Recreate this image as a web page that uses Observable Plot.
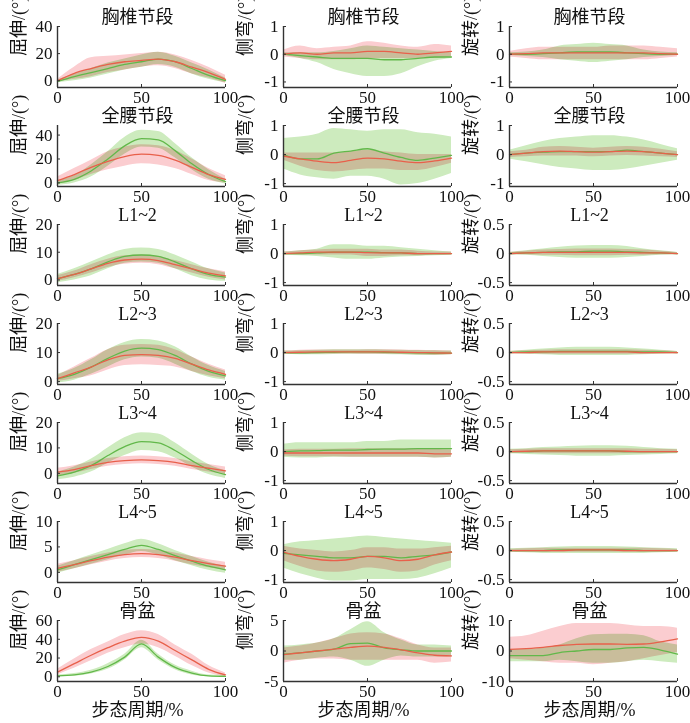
<!DOCTYPE html>
<html><head><meta charset="utf-8">
<script src="https://cdn.jsdelivr.net/npm/d3@7"></script>
<script src="https://cdn.jsdelivr.net/npm/@observablehq/plot@0.6"></script>
<style>
body{margin:0;background:#fff}
#chart{position:relative;width:690px;height:723px;overflow:hidden;background:#fff}
#chart svg{position:absolute;overflow:visible}
</style></head><body><div id="chart"></div>
<script>
// ---- categories / labels ----
const gaitPct = [0,10,20,30,40,50,60,70,80,90,100];
const rowKeys = ["T","W","A","B","C","D","P"];
const rowTitles = ["胸椎节段","全腰节段","L1~2","L2~3","L3~4","L4~5","骨盆"];
const colKeys = ["FE","LB","AR"];
const colLabels = ["屈伸/(°)","侧弯/(°)","旋转/(°)"];
const xLabel = "步态周期/%";
const xTicks = [0,50,100];
const yTicksFE = [[0,20,40],[0,20,40],[0,10,20],[0,10,20],[0,10,20],[0,5,10],[0,20,40,60]];
const yTicksLB = [[-1,0,1],[-1,0,1],[-1,0,1],[-1,0,1],[-1,0,1],[-1,0,1],[-5,0,5]];
const yTicksAR = [[-1,0,1],[-1,0,1],[-0.5,0,0.5],[-0.5,0,0.5],[-0.5,0,0.5],[-0.5,0,0.5],[-10,0,10]];
const yRangeFE = [[-5,40],[-3,48],[-2,20],[-1,20],[-4,20],[-2,10],[-5,60]];
const yRangeLB = [[-1.2,1],[-1.1,1],[-1.1,1],[-1.1,1],[-1.1,1],[-1.1,1],[-5,5]];
const yRangeAR = [[-1.2,1],[-1.1,1],[-0.55,0.5],[-0.55,0.5],[-0.55,0.5],[-0.55,0.5],[-10,10]];

// ---- series values (mean, lower, upper) read at gaitPct ----
// Flexion-extension 屈伸
const T_FE_red   = {mean:[0,5.5,9,12,14,15,16,14,10,6,1], lo:[-1,1,3,6,8,10,11,9,5,2,-2], hi:[1,10,17,18,19,20,21,19,15,10,4]};
const T_FE_green = {mean:[-0.5,3,6,9,12,14,16,14,9,4,0], lo:[-1.5,0,2,5,8,10,12,10,5,1,-1.5], hi:[0.5,5,9,13,16,19,21,18,13,8,2]};
const W_FE_red   = {mean:[2,7,13,18,22,24,23,19,13,7,3], lo:[-1,2,7,11,14,16,15,12,7,2,0], hi:[5,12,19,26,30,32,31,27,20,12,6]};
const W_FE_green = {mean:[0,3,10,20,31,37,36,27,16,7,1], lo:[-2,0,5,14,24,30,29,21,11,3,-1], hi:[2,6,15,26,38,44,43,33,21,11,3]};
const A_FE_red   = {mean:[0.5,2,4,6,7.2,7.5,7,5.5,4,2.5,1.5], lo:[-0.5,0.8,2.5,4.5,5.7,6,5.5,4,2.5,1,0], hi:[1.5,3.2,5.5,7.5,8.7,9,8.5,7,5.5,4,3]};
const A_FE_green = {mean:[0.5,2,4,6.5,8.5,9,8.5,6.5,4,2,1], lo:[-1,0,1.5,4,6,6.5,6,4,1.5,0,-0.5], hi:[2,4,6.5,9,11,11.5,11,9,6.5,4,2.5]};
const B_FE_red   = {mean:[1,3,5,7.5,9,9.3,9,8,6,4,2.5], lo:[0,1,2,4,5.5,5.8,5.5,5,3.5,2,1], hi:[2,5,8,11,12.5,12.8,12.5,11,8.5,6,4]};
const B_FE_green = {mean:[1,2.5,5,8,10.5,11.5,11,9,6,3.5,2], lo:[-0.5,0.5,2.5,5,7.5,8.5,8,6,3.5,1.5,0.5], hi:[2.5,4.5,7.5,11,13.5,14.5,14,12,8.5,5.5,3.5]};
const C_FE_red   = {mean:[0.5,1.5,3,4.3,5,5.3,5,4.3,3,2,1], lo:[-1,0,1.5,2.8,3.5,3.8,3.5,2.8,1.5,0.5,-0.5], hi:[2,3,4.5,5.8,6.5,6.8,6.5,5.8,4.5,3.5,2.5]};
const C_FE_green = {mean:[-1,0.5,3,7,10.5,12.5,12,9,5,1.5,-0.5], lo:[-2.5,-1.5,0.5,4,7,9,8.5,6,2.5,-0.5,-2], hi:[0.5,2.5,5.5,10,14,16,15.5,12,7.5,3.5,1]};
const D_FE_red   = {mean:[0.8,1.5,2.3,3,3.5,3.7,3.5,3,2.3,1.7,1.2], lo:[0,0.7,1.5,2.2,2.7,2.9,2.7,2.2,1.5,0.9,0.4], hi:[1.6,2.3,3.1,3.8,4.3,4.5,4.3,3.8,3.1,2.5,2]};
const D_FE_green = {mean:[0.5,1.5,2.5,3.5,4.5,5.3,4.5,3.3,2.2,1.2,0.5], lo:[-0.2,0.7,1.6,2.5,3.4,4.1,3.4,2.3,1.3,0.4,-0.2], hi:[1.2,2.3,3.4,4.5,5.6,6.5,5.6,4.3,3.1,2,1.2]};
const P_FE_red   = {mean:[5,14,23,31,38,42,38,28,18,8,2], lo:[2,9,17,25,31,35,31,22,12,4,0], hi:[8,19,29,37,45,49,45,34,24,12,4]};
const P_FE_green = {mean:[1,2,5,11,21,35,21,10,4,1,0.5], lo:[0,0.5,3,8,18,31,18,7.5,2,0,-0.5], hi:[2,3.5,7,14,24,39,24,12.5,6,2,1.5]};
// Lateral bending 侧弯
const T_LB_red   = {mean:[0,0.05,0,0.05,0.05,0.1,0.1,0.05,0,0.05,0.1], lo:[-0.1,-0.15,-0.2,-0.2,-0.2,-0.15,-0.15,-0.15,-0.15,-0.15,-0.1], hi:[0.15,0.3,0.2,0.25,0.3,0.45,0.4,0.3,0.25,0.35,0.3]};
const T_LB_green = {mean:[0,-0.05,-0.1,-0.15,-0.15,-0.15,-0.2,-0.2,-0.15,-0.1,-0.1], lo:[-0.05,-0.15,-0.3,-0.55,-0.7,-0.8,-0.8,-0.7,-0.45,-0.25,-0.15], hi:[0.05,0.05,0.05,0.1,0.2,0.3,0.25,0.2,0.15,0.1,0.05]};
const W_LB_red   = {mean:[-0.05,-0.15,-0.23,-0.28,-0.2,-0.12,-0.15,-0.23,-0.28,-0.22,-0.12], lo:[-0.2,-0.4,-0.55,-0.6,-0.55,-0.5,-0.5,-0.55,-0.55,-0.45,-0.3], hi:[0.05,0.05,0.05,0.05,0.1,0.15,0.1,0.05,0,0,0]};
const W_LB_green = {mean:[0,-0.15,-0.15,0.05,0.12,0.2,0.05,-0.1,-0.2,-0.12,-0.03], lo:[-0.5,-0.7,-0.8,-0.85,-0.75,-0.75,-0.85,-1.05,-1,-0.85,-0.65], hi:[0.55,0.6,0.7,0.9,0.85,0.8,0.85,0.85,0.75,0.7,0.6]};
const A_LB_red   = {mean:[0,0.02,0.05,0.05,0.05,0.03,0.02,0.02,0,0,0], lo:[-0.05,-0.05,-0.05,-0.05,-0.05,-0.1,-0.1,-0.08,-0.08,-0.05,-0.05], hi:[0.05,0.1,0.12,0.15,0.15,0.15,0.12,0.12,0.08,0.05,0.05]};
const A_LB_green = {mean:[0,0,0.02,0.05,0.05,0.05,0.03,0.02,0,0,0], lo:[-0.05,-0.08,-0.1,-0.15,-0.2,-0.2,-0.15,-0.12,-0.1,-0.08,-0.05], hi:[0.05,0.1,0.15,0.3,0.3,0.25,0.25,0.2,0.15,0.1,0.05]};
const B_LB_red   = {mean:[0,0.01,0.02,0.02,0.02,0.02,0.02,0.01,0,-0.01,-0.02], lo:[-0.05,-0.06,-0.05,-0.05,-0.05,-0.06,-0.06,-0.07,-0.08,-0.09,-0.08], hi:[0.05,0.08,0.09,0.09,0.09,0.1,0.1,0.09,0.08,0.07,0.05]};
const B_LB_green = {mean:[0,-0.01,0,0.01,0.02,0.02,0.01,0,-0.01,-0.02,-0.02], lo:[-0.05,-0.08,-0.08,-0.07,-0.06,-0.06,-0.07,-0.08,-0.1,-0.1,-0.08], hi:[0.05,0.06,0.08,0.1,0.1,0.1,0.09,0.08,0.07,0.06,0.05]};
const C_LB_red   = {mean:[-0.05,-0.05,-0.05,-0.05,-0.05,-0.05,-0.05,-0.05,-0.05,-0.08,-0.08], lo:[-0.15,-0.18,-0.18,-0.18,-0.2,-0.2,-0.2,-0.2,-0.2,-0.22,-0.2], hi:[0.05,0.08,0.08,0.08,0.1,0.1,0.1,0.1,0.1,0.08,0.05]};
const C_LB_green = {mean:[0,0.02,0.03,0.05,0.05,0.07,0.08,0.08,0.1,0.1,0.1], lo:[-0.2,-0.22,-0.22,-0.2,-0.2,-0.2,-0.2,-0.2,-0.2,-0.22,-0.2], hi:[0.25,0.3,0.3,0.3,0.3,0.35,0.35,0.4,0.4,0.4,0.4]};
const D_LB_red   = {mean:[-0.05,-0.2,-0.3,-0.35,-0.3,-0.2,-0.25,-0.35,-0.3,-0.15,-0.05], lo:[-0.35,-0.55,-0.7,-0.75,-0.7,-0.6,-0.65,-0.75,-0.7,-0.5,-0.35], hi:[0.15,0.05,0,-0.05,0,0.1,0.1,0.05,0.05,0.1,0.15]};
const D_LB_green = {mean:[-0.1,-0.15,-0.2,-0.25,-0.25,-0.2,-0.2,-0.25,-0.2,-0.15,-0.05], lo:[-0.6,-0.8,-0.95,-1.05,-1.05,-1,-1,-1,-0.95,-0.8,-0.6], hi:[0.2,0.3,0.35,0.4,0.45,0.5,0.45,0.4,0.35,0.3,0.25]};
const P_LB_red   = {mean:[-0.6,-0.3,0,0.3,0.6,0.8,0.6,0.2,-0.3,-0.7,-0.8], lo:[-2,-1.5,-1.3,-1.3,-1.5,-1.5,-1.5,-1.5,-1.5,-2,-1.8], hi:[0.5,0.8,1.3,2,2.8,3,2.8,2,1,0.5,0.5]};
const P_LB_green = {mean:[-0.5,-0.3,0,0.3,1.2,1.3,0.5,0.2,0,0,0], lo:[-1.5,-1.5,-1.2,-1,-1.5,-2.5,-1.5,-0.8,-1,-1,-1], hi:[0.8,1,1.3,2,3.5,4.8,3,1.8,1,1,0.8]};
// Axial rotation 旋转
const T_AR_red   = {mean:[0,0.02,0.05,0.05,0.05,0.05,0.05,0.05,0.05,0.02,0], lo:[-0.1,-0.15,-0.2,-0.2,-0.2,-0.2,-0.2,-0.2,-0.2,-0.15,-0.1], hi:[0.1,0.2,0.25,0.25,0.25,0.25,0.3,0.3,0.3,0.25,0.2]};
const T_AR_green = {mean:[0,0,0.02,0.05,0.08,0.08,0.08,0.05,0.02,0,0], lo:[-0.05,-0.08,-0.12,-0.2,-0.25,-0.3,-0.25,-0.2,-0.12,-0.08,-0.05], hi:[0.05,0.08,0.15,0.3,0.35,0.4,0.35,0.3,0.15,0.08,0.05]};
const W_AR_red   = {mean:[0,0.05,0.1,0.12,0.1,0.08,0.1,0.12,0.1,0.05,0], lo:[-0.1,-0.08,-0.05,-0.05,-0.05,-0.08,-0.05,-0.03,-0.05,-0.08,-0.1], hi:[0.1,0.15,0.25,0.28,0.25,0.22,0.25,0.28,0.25,0.18,0.1]};
const W_AR_green = {mean:[0,0.05,0.08,0.1,0.1,0.1,0.1,0.15,0.1,0.05,0], lo:[-0.15,-0.25,-0.35,-0.45,-0.5,-0.55,-0.55,-0.5,-0.4,-0.3,-0.2], hi:[0.15,0.3,0.45,0.55,0.6,0.65,0.65,0.6,0.5,0.35,0.2]};
const A_AR_red   = {mean:[0,0.01,0.02,0.02,0.02,0.02,0.02,0.02,0.01,0.01,0], lo:[-0.02,-0.02,-0.03,-0.03,-0.04,-0.04,-0.04,-0.03,-0.03,-0.02,-0.02], hi:[0.02,0.04,0.06,0.07,0.08,0.08,0.08,0.07,0.06,0.04,0.02]};
const A_AR_green = {mean:[0,0.01,0.02,0.03,0.03,0.04,0.04,0.03,0.02,0.01,0], lo:[-0.02,-0.03,-0.05,-0.07,-0.08,-0.08,-0.08,-0.07,-0.05,-0.03,-0.02], hi:[0.02,0.05,0.08,0.11,0.13,0.14,0.14,0.12,0.08,0.05,0.02]};
const B_AR_red   = {mean:[0,0,0.01,0.01,0.01,0.01,0.01,0.01,0,0,0], lo:[-0.02,-0.02,-0.03,-0.03,-0.03,-0.03,-0.03,-0.03,-0.03,-0.02,-0.02], hi:[0.02,0.03,0.04,0.05,0.05,0.05,0.05,0.05,0.04,0.03,0.02]};
const B_AR_green = {mean:[0,0.01,0.01,0.02,0.02,0.02,0.02,0.02,0.01,0.01,0], lo:[-0.02,-0.03,-0.04,-0.05,-0.05,-0.05,-0.05,-0.05,-0.04,-0.03,-0.02], hi:[0.02,0.04,0.06,0.08,0.09,0.09,0.09,0.08,0.06,0.04,0.02]};
const C_AR_red   = {mean:[0,0.005,0.01,0.01,0.01,0.01,0.01,0.005,0,0,0], lo:[-0.03,-0.03,-0.04,-0.04,-0.04,-0.04,-0.04,-0.04,-0.04,-0.03,-0.03], hi:[0.03,0.04,0.05,0.05,0.05,0.05,0.05,0.05,0.04,0.04,0.03]};
const C_AR_green = {mean:[0,0,0.01,0.01,0.01,0.01,0.01,0,0,0,0], lo:[-0.04,-0.05,-0.06,-0.07,-0.08,-0.08,-0.08,-0.07,-0.06,-0.05,-0.04], hi:[0.04,0.05,0.07,0.08,0.09,0.1,0.1,0.09,0.07,0.05,0.04]};
const D_AR_red   = {mean:[0,0,0,0,0.01,0.01,0.01,0,0,0,0], lo:[-0.02,-0.03,-0.03,-0.03,-0.03,-0.03,-0.03,-0.03,-0.03,-0.03,-0.02], hi:[0.02,0.03,0.04,0.04,0.04,0.04,0.04,0.04,0.04,0.03,0.02]};
const D_AR_green = {mean:[0,0,0,0.01,0.01,0.01,0.01,0.01,0,0,0], lo:[-0.03,-0.04,-0.05,-0.05,-0.05,-0.05,-0.05,-0.05,-0.05,-0.04,-0.03], hi:[0.03,0.04,0.05,0.06,0.07,0.07,0.07,0.06,0.05,0.04,0.03]};
const P_AR_red   = {mean:[0.5,0.8,1.2,1.8,2.2,2.3,2.3,2.2,2.3,3,4], lo:[-2.5,-3,-3.5,-4,-4,-4.5,-4,-3.5,-2.5,-1.5,-0.5], hi:[4.5,5,6.5,8,9,9,9,8.5,8,8,7.5]};
const P_AR_green = {mean:[-1.5,-1.5,-1.5,-0.5,0,0.5,0.5,1,1.2,0.3,-1], lo:[-3.5,-3.5,-3.5,-3,-3.5,-4,-4,-3.5,-3,-3.5,-4], hi:[0.5,0.5,1,2,4,5.3,5.5,5.5,5,3,2]};

const seriesByPanel = {
  T_FE:[T_FE_red,T_FE_green], T_LB:[T_LB_red,T_LB_green], T_AR:[T_AR_red,T_AR_green],
  W_FE:[W_FE_red,W_FE_green], W_LB:[W_LB_red,W_LB_green], W_AR:[W_AR_red,W_AR_green],
  A_FE:[A_FE_red,A_FE_green], A_LB:[A_LB_red,A_LB_green], A_AR:[A_AR_red,A_AR_green],
  B_FE:[B_FE_red,B_FE_green], B_LB:[B_LB_red,B_LB_green], B_AR:[B_AR_red,B_AR_green],
  C_FE:[C_FE_red,C_FE_green], C_LB:[C_LB_red,C_LB_green], C_AR:[C_AR_red,C_AR_green],
  D_FE:[D_FE_red,D_FE_green], D_LB:[D_LB_red,D_LB_green], D_AR:[D_AR_red,D_AR_green],
  P_FE:[P_FE_red,P_FE_green], P_LB:[P_LB_red,P_LB_green], P_AR:[P_AR_red,P_AR_green]
};
const yTicksByCol = [yTicksFE, yTicksLB, yTicksAR];
const yRangeByCol = [yRangeFE, yRangeLB, yRangeAR];

// ---- layout & style ----
const plotLeft = [57, 283, 509];
const plotW = 168, plotH = 61;
const firstBottom = 87, rowStep = 99;
const ML = 50, MR = 20, MT = 26, MB = 38;
const RED_LINE = "#e8604b", GREEN_LINE = "#62b84a";
const RED_FILL = "#fbcdd0", GREEN_FILL = "#cdebbe";
const SERIF = "'Liberation Serif','Times New Roman','Noto Sans CJK SC',serif";
const CJK = "'Liberation Serif','Noto Sans CJK SC',sans-serif";
const curve = "monotone-x";

const chart = document.getElementById("chart");
rowKeys.forEach((rk, i) => {
  colKeys.forEach((ck, j) => {
    const [red, green] = seriesByPanel[rk + "_" + ck];
    const rows = gaitPct.map((x, k) => ({
      x, rm: red.mean[k], rl: red.lo[k], rh: red.hi[k],
      gm: green.mean[k], gl: green.lo[k], gh: green.hi[k]
    }));
    const [y0, y1] = yRangeByCol[j][i];
    const marks = [
      Plot.areaY(rows, {x: "x", y1: "gl", y2: "gh", fill: GREEN_FILL, curve}),
      Plot.areaY(rows, {x: "x", y1: "rl", y2: "rh", fill: RED_FILL, mixBlendMode: "multiply", curve}),
      Plot.lineY(rows, {x: "x", y: "gm", stroke: GREEN_LINE, strokeWidth: 1.3, curve}),
      Plot.lineY(rows, {x: "x", y: "rm", stroke: RED_LINE, strokeWidth: 1.3, curve}),
      Plot.ruleX([0], {stroke: "#333", strokeWidth: 1.4}),
      Plot.ruleY([y0], {stroke: "#333", strokeWidth: 1.4}),
      Plot.axisX({ticks: xTicks, tickSize: -3, tickPadding: 6, tickFormat: d => String(d), label: null, fontSize: 17, stroke: "#333"}),
      Plot.axisY({ticks: yTicksByCol[j][i], tickSize: -3, tickPadding: 8, tickFormat: d => String(d), label: null, fontSize: 17, stroke: "#333"}),
      Plot.text([rowTitles[i]], {frameAnchor: "top", dy: -9, dx: -4, text: d => d, fontSize: 18, fontFamily: CJK, lineAnchor: "middle", fill: "#111"}),
      Plot.text([colLabels[j]], {frameAnchor: "left", rotate: -90, dx: -38, dy: -1, text: d => d, fontSize: 18, fontFamily: CJK, lineAnchor: "middle", fill: "#111"})
    ];
    if (i === rowKeys.length - 1) {
      marks.push(Plot.text([xLabel], {frameAnchor: "bottom", dy: 29, dx: -4, text: d => d, fontSize: 18, fontFamily: CJK, lineAnchor: "middle", fill: "#111"}));
    }
    const svg = Plot.plot({
      width: plotW + ML + MR, height: plotH + MT + MB,
      marginLeft: ML, marginRight: MR, marginTop: MT, marginBottom: MB,
      style: {background: "transparent", overflow: "visible", fontFamily: SERIF, fontSize: "17px", color: "#111"},
      x: {domain: [0, 100]},
      y: {domain: [y0, y1]},
      marks
    });
    const bottom = firstBottom + rowStep * i;
    svg.style.left = (plotLeft[j] - ML) + "px";
    svg.style.top = (bottom - plotH - MT) + "px";
    chart.appendChild(svg);
  });
});
</script>
</body></html>
